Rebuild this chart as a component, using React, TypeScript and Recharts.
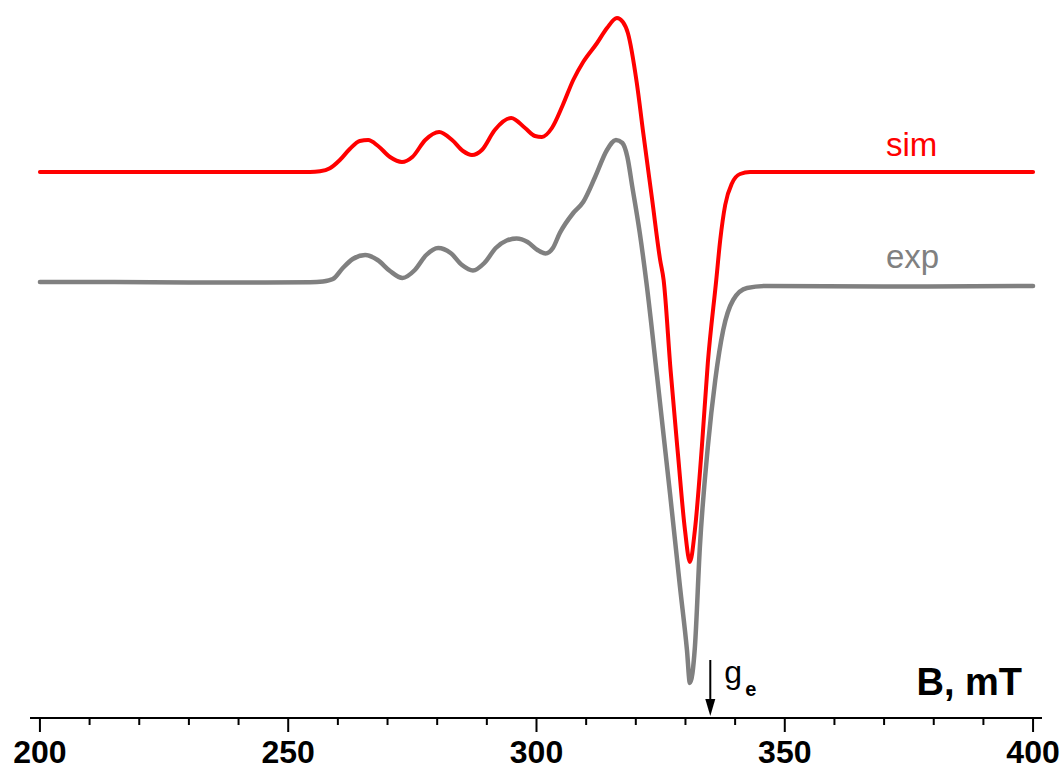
import React from "react";
import {
  LineChart,
  Line,
  XAxis,
  YAxis,
  ReferenceLine,
  ReferenceDot,
  Customized,
} from "recharts";

// field, mT
const simField = [
  200, 254.4, 256.4, 258.4, 260.4, 262.4, 264.4, 266.1, 268.1, 270.5, 272.9,
  275.0, 277.6, 280.4, 283.0, 285.2, 287.0, 289.0, 291.6, 294.9, 297.7, 299.7,
  301.1, 303.1, 305.3, 307.4, 309.4, 312.2, 314.2, 316.2, 317.4, 318.4, 320.2,
  321.5, 323.3, 324.9, 325.6, 327.0, 328.5, 329.9, 330.9, 331.9, 333.3, 334.5,
  336.2, 337.0, 338.0, 339.4, 341.0, 343.0, 400,
];
// simulated derivative signal, a.u.
const simSignal = [
  0, 0, 0.7, 3.7, 12, 23, 31, 32, 26, 15, 10, 15, 32, 40, 32, 21, 17, 22, 42,
  54, 44, 36, 35, 44, 67, 92, 110, 129, 144, 154, 150, 139, 89, 39, -28, -88,
  -108, -198, -283, -358, -390, -358, -275, -191, -108, -68, -33, -11, -2, 0, 0,
];

const expField = [
  200, 215, 230, 245, 254.4, 257, 259, 261, 263, 265.5, 268, 270.5, 273, 275.5,
  277.8, 280.2, 282.7, 285, 287.2, 289.5, 291.8, 294, 296, 298.2, 300.2, 301.8,
  303.3, 304.7, 307.4, 309.4, 311.8, 314.2, 316.0, 317.3, 318.3, 319.3, 320.8,
  322.2, 324.3, 326.9, 328.9, 330.3, 330.9, 331.9, 332.9, 334.5, 336.0, 337.6,
  339.6, 342.4, 346.4, 370, 400,
];
// experimental derivative signal, a.u.
const expSignal = [
  0, 0, -0.5, -0.5, -0.3, 0.5, 3, 14, 23, 27, 22, 11, 4, 12, 27, 34, 29, 17,
  11.5, 19, 34, 41.5, 43.5, 40, 32, 28.5, 34, 49, 69, 80, 105, 132, 142, 139,
  125, 95, 49, -3, -95, -212, -305, -368, -401, -365, -265, -165, -98, -48, -18,
  -6, -4, -4.5, -4,
];

const SIM_OFFSET = 110;
const G_E_FIELD = 335;

const axisTicks = [
  200, 210, 220, 230, 240, 250, 260, 270, 280, 290, 300, 310, 320, 330, 340,
  350, 360, 370, 380, 390, 400,
];
const labelledTicks = [200, 250, 300, 350, 400];

const simData = simField.map((b, i) => ({ b, v: simSignal[i] + SIM_OFFSET }));
const expData = expField.map((b, i) => ({ b, v: expSignal[i] }));

const FONT = "'Liberation Sans', Arial, sans-serif";

const AxisTick = (props: any) => {
  const { x, y, payload } = props;
  const major = labelledTicks.includes(payload.value);
  return (
    <g>
      <line
        x1={x}
        y1={y}
        x2={x}
        y2={y + (major ? 14 : 7)}
        stroke="#000"
        strokeWidth={2}
      />
      {major && (
        <text
          x={x}
          y={y + 45}
          textAnchor="middle"
          fontFamily={FONT}
          fontWeight="bold"
          fontSize={32}
          fill="#000"
        >
          {payload.value}
        </text>
      )}
    </g>
  );
};

const Labels = () => (
  <g fontFamily={FONT}>
    <text x={886} y={156} fontSize={33} fill="#ff0000">
      sim
    </text>
    <text x={886} y={268} fontSize={33} fill="#808080">
      exp
    </text>
    <text
      x={1022}
      y={695}
      textAnchor="end"
      fontSize={38}
      fontWeight="bold"
      fill="#000"
    >
      B, mT
    </text>
  </g>
);

const GeArrow = (props: any) => {
  const { cx, cy } = props;
  return (
    <g fontFamily={FONT}>
      <path
        d={`M ${cx - 5} ${cy - 17} L ${cx + 5} ${cy - 17} L ${cx} ${cy} Z`}
        fill="#000"
      />
      <text x={cx + 14} y={cy - 33} fontSize={32} fill="#000">
        g
      </text>
      <text x={cx + 35} y={cy - 20} fontSize={20} fontWeight="bold" fill="#000">
        e
      </text>
    </g>
  );
};

export default function App() {
  return (
    <div style={{ position: "fixed", left: 0, top: 0, background: "#fff" }}>
      <LineChart
        width={1064}
        height={771}
        margin={{ top: 0, right: 22, left: 30, bottom: 0 }}
      >
        <XAxis
          dataKey="b"
          type="number"
          domain={[198, 401.8]}
          ticks={axisTicks}
          interval={0}
          tickSize={0}
          tickMargin={0}
          tickLine={false}
          tick={<AxisTick />}
          axisLine={{ stroke: "#000", strokeWidth: 2 }}
          height={53}
          allowDataOverflow
        />
        <YAxis type="number" domain={[-436, 282]} hide allowDataOverflow />
        <Line
          data={expData}
          dataKey="v"
          type="monotone"
          stroke="#808080"
          strokeWidth={4.5}
          strokeLinecap="round"
          dot={false}
          isAnimationActive={false}
        />
        <Line
          data={simData}
          dataKey="v"
          type="monotone"
          stroke="#ff0000"
          strokeWidth={4}
          strokeLinecap="round"
          dot={false}
          isAnimationActive={false}
        />
        <ReferenceLine
          segment={[
            { x: G_E_FIELD, y: -378 },
            { x: G_E_FIELD, y: -420 },
          ]}
          stroke="#000"
          strokeWidth={2}
        />
        <ReferenceDot
          x={G_E_FIELD}
          y={-434}
          r={0}
          shape={<GeArrow />}
        />
        <Customized component={<Labels />} />
      </LineChart>
    </div>
  );
}
